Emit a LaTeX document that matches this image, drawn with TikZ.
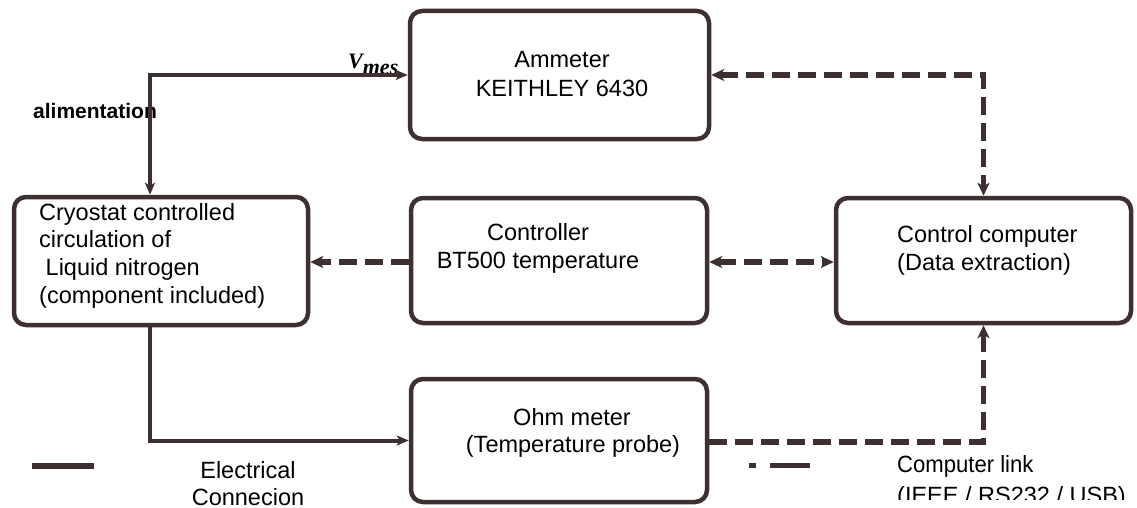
\documentclass[tikz,border=0pt]{standalone}
\usepackage{fontspec}
\setmainfont{Liberation Sans}
\newfontfamily\serifV{Liberation Serif}
\usetikzlibrary{arrows.meta}
\definecolor{linec}{RGB}{62,48,48}
\begin{document}
\begin{tikzpicture}[x=1pt,y=-1pt,
  ctip/.tip={Stealth[length=12pt,width=10pt,inset=3pt]},
  dtip/.tip={Stealth[length=13pt,width=12pt,inset=3.5pt]},
  box/.style={draw=linec, line width=4.5pt, rounded corners=12pt, inner sep=0pt, fill=white},
  txt/.style={inner sep=0pt, font=\fontsize{23.5}{28}\selectfont},
  elec/.style={draw=linec, line width=4pt},
  link/.style={draw=linec, line width=5.5pt, dash pattern=on 18pt off 8pt},
  legsolid/.style={draw=linec, line width=5.5pt},
  legdash/.style={draw=linec, line width=4.5pt}]
\useasboundingbox (0,0) rectangle (1137,508);
\fill[white] (0,0) rectangle (1137,508);

% boxes
\node[box, minimum width=299pt, minimum height=128pt] (amm)  at (559.5,75) {};
\node[box, minimum width=294pt, minimum height=128pt] (cryo) at (161,261) {};
\node[box, minimum width=296pt, minimum height=125pt] (ctrl) at (559,260.5) {};
\node[box, minimum width=295pt, minimum height=125pt] (comp) at (983.5,260.5) {};
\node[box, minimum width=296pt, minimum height=123pt] (ohm)  at (559,440.5) {};

% box texts
\node[txt, anchor=base] (ammA) at (562,68) {Ammeter};
\node[txt, anchor=base] (ammB) at (562,97) {KEITHLEY 6430};
\node[txt, anchor=base west] (cryA) at (39,220) {Cryostat controlled};
\node[txt, anchor=base west] (cryB) at (39,247) {circulation of};
\node[txt, anchor=base west] (cryC) at (39,275) {\hspace*{6.5pt}Liquid nitrogen};
\node[txt, anchor=base west] (cryD) at (39,303) {(component included)};
\node[txt, anchor=base] (ctrA) at (538,240) {Controller};
\node[txt, anchor=base] (ctrB) at (538,268) {BT500 temperature};
\node[txt, anchor=base west] (cmpA) at (897,242) {Control computer};
\node[txt, anchor=base west] (cmpB) at (897,270) {(Data extraction)};
\node[txt, anchor=base] (ohmA) at (572,425) {Ohm meter};
\node[txt, anchor=base] (ohmB) at (573,452) {(Temperature probe)};

% labels
\node[inner sep=0pt, anchor=base west, font=\bfseries\fontsize{21}{25}\selectfont] (alim) at (33,119) {alimentation};
\node[inner sep=0pt, anchor=base west] (vmes) at (348,69) {\serifV\bfseries\itshape\fontsize{22}{26}\selectfont V\raisebox{-6pt}{mes}};

% legend
\coordinate (ls1) at (32,466);
\coordinate (ls2) at (94,466);
\draw[legsolid] (ls1) -- (ls2);
\node[txt, anchor=base] (elA) at (248,478) {Electrical};
\node[txt, anchor=base] (elB) at (248,505) {Connecion};
\coordinate (ld1) at (749,465.5);
\coordinate (ld2) at (756,465.5);
\coordinate (ld3) at (770,465.5);
\coordinate (ld4) at (810,465.5);
\draw[legdash] (ld1) -- (ld2);
\draw[legdash] (ld3) -- (ld4);
\node[txt, anchor=base west] (clA) at (897,472) {\scalebox{0.94}[1]{Computer link}};
\begin{scope}
  \clip (880,480) rectangle (1137,499);
  \node[txt, anchor=base west] (clB) at (897,503) {(IEEE / RS232 / USB)};
\end{scope}

% connectors
\draw[elec, {ctip}-{ctip}] ([xshift=-11pt]cryo.north) |- (amm.west);
\draw[elec, -{ctip}] ([xshift=-11pt]cryo.south) |- (ohm.west);
\draw[link, {dtip}-{dtip}] (amm.east) -| (comp.north);
\draw[link, -{dtip}] ([yshift=-1.5pt]ctrl.west) -- ([yshift=-1.5pt]ctrl.west -| cryo.east);
\draw[link, {dtip}-{dtip}] ([yshift=-1.5pt]ctrl.east) -- ([yshift=-1.5pt]ctrl.east -| comp.west);
\draw[link, -{dtip}] ([yshift=-1.5pt]ohm.east) -| (comp.south);
\end{tikzpicture}
\end{document}
